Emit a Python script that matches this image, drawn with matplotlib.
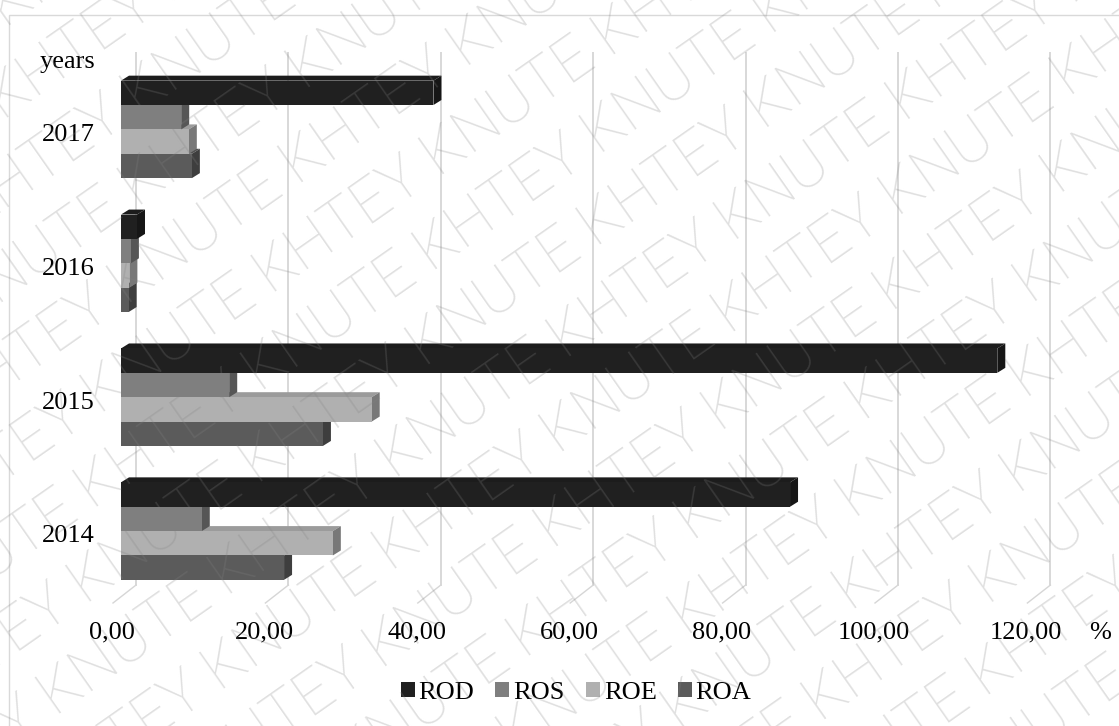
import numpy as np
import matplotlib.pyplot as plt
from matplotlib.patches import Patch, Rectangle

plt.rcParams['font.family'] = ['Liberation Serif', 'DejaVu Serif']

years = ['2014', '2015', '2016', '2017']
rod = [87.8, 115.0, 2.1, 41.0]
ros = [10.6, 14.2, 1.3, 7.9]
roe = [27.8, 32.9, 1.1, 8.9]
roa = [21.4, 26.5, 1.0, 9.3]
ticks = [0, 20, 40, 60, 80, 100, 120]
tick_labels = ['0,00', '20,00', '40,00', '60,00', '80,00', '100,00', '120,00']

series = [('ROD', rod, '#202020'), ('ROS', ros, '#7f7f7f'),
          ('ROE', roe, '#b0b0b0'), ('ROA', roa, '#5b5b5b')]

W, H = 1119, 726
fig = plt.figure(figsize=(W / 100, H / 100), dpi=100)

# axes: value 0 at the bars' front face, pixel scale 7.62 px per unit
px_per_unit = 7.62
left_px = 108
ax = fig.add_axes([left_px / W, (H - 603) / H, (W - left_px) / W, (603 - 52) / H])
ax.set_xlim(-(121 - left_px) / px_per_unit, (W - 121) / px_per_unit)
ax.set_ylim(-0.537, 3.578)
ax.axis('off')

depth_x = 15 / px_per_unit      # back wall offset
bar_dx = 8 / px_per_unit        # visible bar depth
bar_dy = 5 / 134
h = 0.182
floor_y = -0.403


def shade(c, f):
    rgb = np.array([int(c[i:i + 2], 16) for i in (1, 3, 5)]) / 255
    return tuple(rgb * f)


# back wall grid + floor lines
for v in ticks:
    ax.plot([v + depth_x, v + depth_x], [floor_y, 3.578], color='#d6d6d6', lw=1.3, zorder=0)
    ax.plot([v + depth_x, v - 1.05], [floor_y, -0.537], color='#d6d6d6', lw=1.0, zorder=0,
            clip_on=False)

# bars, drawn bottom-up so upper bars cover top faces below them
for i in range(len(years)):
    for k in range(3, -1, -1):
        name, vals, col = series[k]
        v = vals[i]
        top = i + (2 - k) * h
        yb = top - h
        ax.fill([0, v, v + bar_dx, bar_dx], [top, top, top + bar_dy, top + bar_dy],
                color=shade(col, 0.88), lw=0, zorder=2 + (3 - k))
        ax.fill([v, v + bar_dx, v + bar_dx, v], [yb, yb + bar_dy, top + bar_dy, top],
                color=shade(col, 0.68), lw=0, zorder=2 + (3 - k))
        ax.add_patch(Rectangle((0, yb), v, h, color=col, lw=0, zorder=2 + (3 - k)))

# category and value labels
for i, y in enumerate(years):
    ax.text(-(121 - 95) / px_per_unit, i - 0.04, y, ha='right', va='center', fontsize=19,
            clip_on=False)
for v, lab in zip(ticks, tick_labels):
    ax.text(v - 1.2, -0.76, lab, ha='center', va='center', fontsize=19, clip_on=False)
ax.text((1100 - 121) / px_per_unit, -0.76, '%', ha='center', va='center', fontsize=19,
        clip_on=False)
fig.text(40 / W, 1 - 68 / H, 'years', ha='left', va='baseline', fontsize=19)

handles = [Patch(facecolor=c, edgecolor='none', label=n) for n, _, c in series]
fig.legend(handles=handles, loc='center', bbox_to_anchor=(576 / W, 1 - 693 / H), ncol=4,
           frameon=False, fontsize=19, handlelength=0.53, handleheight=0.53,
           handletextpad=0.15, columnspacing=0.8, borderpad=0)

# chart border
fig.patches.append(Rectangle((9 / W, -0.1), 1.2, 1 - 15 / H + 0.1, transform=fig.transFigure,
                             fill=False, edgecolor='#d9d9d9', lw=1.0))

# diagonal watermark
ang = np.deg2rad(35)
u = np.array([np.cos(ang), np.sin(ang)])
n = np.array([np.sin(ang), -np.cos(ang)])
center = np.array([W / 2, H / 2])
for k in range(-9, 10):
    words = ['KNUTE', 'KHTEY'] if k % 2 else ['KHTEY', 'KNUTE']
    line = ' '.join(words * 5)
    o = center + k * 74 * n - (820 + 60 * (k % 3)) * u
    fig.text(o[0] / W, o[1] / H, line, rotation=35, rotation_mode='anchor',
             ha='left', va='baseline', fontsize=44, family=['Roboto', 'DejaVu Sans'],
             fontweight='light', color='#828282', alpha=0.25, zorder=10)

fig.savefig('out.png', dpi=100)
